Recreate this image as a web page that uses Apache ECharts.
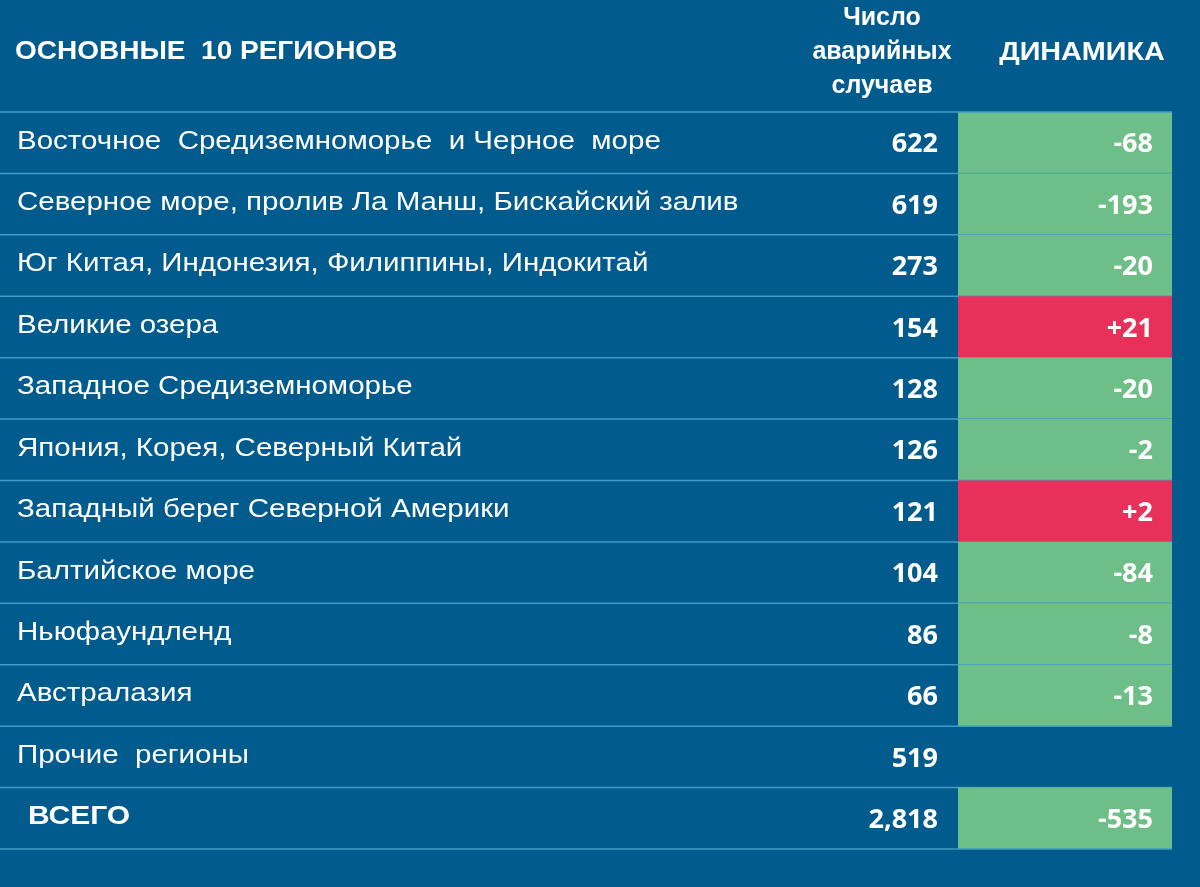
<!DOCTYPE html>
<html><head><meta charset="utf-8">
<script src="https://cdn.jsdelivr.net/npm/echarts@6/dist/echarts.min.js"></script>
<style>html,body{margin:0;padding:0;background:#025b8d}#c{width:1200px;height:887px}</style>
</head><body><div id="c"></div>
<script>
var regions = ["Восточное  Средиземноморье  и Черное  море","Северное море, пролив Ла Манш, Бискайский залив","Юг Китая, Индонезия, Филиппины, Индокитай","Великие озера","Западное Средиземноморье","Япония, Корея, Северный Китай","Западный берег Северной Америки","Балтийское море","Ньюфаундленд","Австралазия","Прочие  регионы","ВСЕГО"];
var accidents = [622,619,273,154,128,126,121,104,86,66,519,2818];
var dynamics = [-68,-193,-20,21,-20,-2,2,-84,-8,-13,null,-535];
var headers = ["ОСНОВНЫЕ  10 РЕГИОНОВ","Число\nаварийных\nслучаев","ДИНАМИКА"];

var chart = echarts.init(document.getElementById('c'));
var data = regions.map(function(r,i){return [0,i];});
function fmt(n){return n.toLocaleString('en-US');}
chart.setOption({
  backgroundColor:'#025b8d',
  grid:{left:0,right:0,top:112,bottom:38},
  xAxis:{type:'value',min:0,max:1200,show:false},
  yAxis:{type:'category',data:regions,inverse:true,show:false},
  graphic:[
    {type:'text',x:15,y:52,scaleX:1.12,style:{text:headers[0],fill:'#fff',font:'bold 25px "Liberation Sans", Arial',verticalAlign:'middle'}},
    {type:'text',x:882,y:52,style:{text:headers[1],fill:'#fff',font:'bold 25px "Liberation Sans", Arial',align:'center',verticalAlign:'middle',lineHeight:34}},
    {type:'text',x:1082,y:53,scaleX:1.15,style:{text:headers[2],fill:'#fff',font:'bold 25px "Liberation Sans", Arial',align:'center',verticalAlign:'middle'}}
  ],
  series:[{
    type:'custom',
    data:data,
    renderItem:function(params,api){
      var i=api.value(1);
      var c=api.coord([0,i]);
      var h=api.size([0,1])[1];
      var top=c[1]-h/2, bot=c[1]+h/2;
      var last=i===regions.length-1;
      var ch=[];
      var d=dynamics[i];
      if(d!==null){
        ch.push({type:'rect',shape:{x:958,y:top,width:214,height:h},style:{fill:d>0?'#e8315a':'#6dbe87'}});
        ch.push({type:'text',style:{x:1153,y:c[1]+2,text:(d>0?'+':'')+d,fill:'#fff',font:'bold 27px "Open Sans", sans-serif',align:'right',verticalAlign:'middle'}});
      }
      if(i===0) ch.push({type:'line',shape:{x1:0,y1:top,x2:1172,y2:top},style:{stroke:'#3f9cc9',lineWidth:1.5}});
      ch.push({type:'line',shape:{x1:0,y1:bot,x2:1172,y2:bot},style:{stroke:'#3f9cc9',lineWidth:1.5}});
      ch.push({type:'text',x:last?28:17,y:c[1]-1,scaleX:last?1.2:1.18,style:{x:0,y:0,text:regions[i],fill:'#fff',font:(last?'bold ':'')+'25px "Liberation Sans", Arial',verticalAlign:'middle'}});
      ch.push({type:'text',style:{x:938,y:c[1]+2,text:fmt(accidents[i]),fill:'#fff',font:'bold 27px "Open Sans", sans-serif',align:'right',verticalAlign:'middle'}});
      return {type:'group',children:ch};
    }
  }]
});
</script></body></html>
